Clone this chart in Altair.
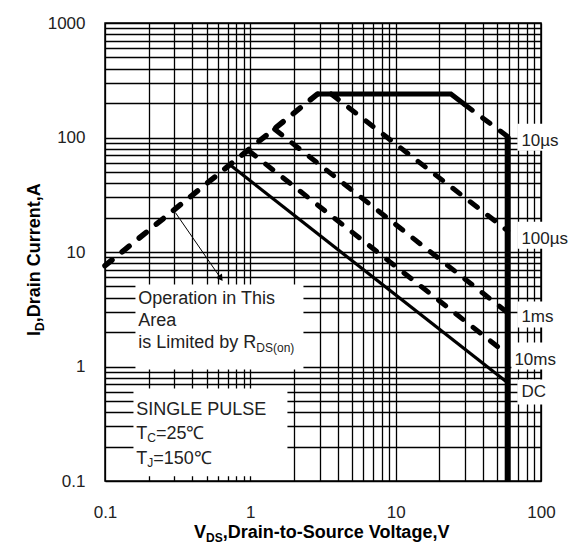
import altair as alt
import pandas as pd

# ---------------- data ----------------
x_grid = [0.1, 0.2, 0.3, 0.4, 0.5, 0.6, 0.7, 0.8, 0.9,
          1, 2, 3, 4, 5, 6, 7, 8, 9,
          10, 20, 30, 40, 50, 60, 70, 80, 90, 100]
y_grid = [0.1, 0.2, 0.3, 0.4, 0.5, 0.6, 0.7, 0.8, 0.9,
          1, 2, 3, 4, 5, 6, 7, 8, 9,
          10, 20, 30, 40, 50, 60, 70, 80, 90,
          100, 200, 300, 400, 500, 600, 700, 800, 900, 1000]
x_labels = [0.1, 1, 10, 100]
y_labels = [0.1, 1, 10, 100, 1000]

# SOA boundaries (V_DS, I_D)
rds_v = [0.1, 2.9]
rds_i = [7.6, 240]
top_v = [2.9, 24, 30]
top_i = [240, 240, 193]
us10_v = [30, 59]
us10_i = [193, 102]
us100_v = [3.6, 59]
us100_i = [240, 15.3]
ms1_v = [1.47, 59]
ms1_i = [118, 2.95]
ms10_v = [0.97, 59]
ms10_i = [77, 1.27]
dc_v = [0.72, 59]
dc_i = [58, 0.72]
vmax_v = [59, 59]
vmax_i = [102, 0.1]

arrow_v = [0.305, 0.62]
arrow_i = [22.1, 6.0]

# curve labels
curve_names = ["10µs", "100µs", "1ms", "10ms", "DC"]
curve_label_v = [73.3, 73.3, 73.3, 65.6, 73.3]
curve_label_i = [93.8, 13.1, 2.70, 1.13, 0.593]

# white label backgrounds (x1, x2, y1, y2)
box_x1 = [68.8, 68.8, 68.8, 62.6, 68.8, 0.162, 0.157]
box_x2 = [178, 178, 178, 178, 178, 2.32, 1.80]
box_y1 = [132, 18.4, 3.69, 1.62, 0.77, 5.2, 0.643]
box_y2 = [76.7, 10.7, 2.19, 0.94, 0.466, 0.94, 0.11]

note_lines = ["Operation in This", "Area", "is Limited by R"]
note_v = [0.1695, 0.1695, 0.1695]
note_i = [3.92, 2.52, 1.59]

pulse_lines = ["SINGLE PULSE", "T", "T"]
pulse_v = [0.164, 0.164, 0.164]
pulse_i = [0.421, 0.255, 0.157]

FONT = "Liberation Sans"

# ---------------- scales / axes ----------------
xs = alt.Scale(type="log", domain=[0.1, 100], nice=False)
ys = alt.Scale(type="log", domain=[0.1, 1000], nice=False)


def expr_for(vals):
    return " || ".join("datum.value == %s" % v for v in vals)


x_axis = alt.Axis(values=x_grid, grid=True, gridColor="#000", gridWidth=1.3, gridOpacity=1,
                  domain=False, ticks=False, format="~g",
                  labelExpr="(" + expr_for(x_labels) + ") ? datum.label : ''",
                  labelPadding=23, labelFontSize=17, labelFont=FONT, labelColor="#222",
                  labelOverlap=False, labelFlush=False)
y_axis = alt.Axis(values=y_grid, grid=True, gridColor="#000", gridWidth=1.3, gridOpacity=1,
                  domain=False, ticks=False, format="~g",
                  labelExpr="(" + expr_for(y_labels) + ") ? datum.label : ''",
                  labelPadding=20, labelFontSize=17, labelFont=FONT, labelColor="#222",
                  labelOverlap=False, labelFlush=False)


def X(f="v"):
    return alt.X(f + ":Q", scale=xs, axis=x_axis, title=None)


def Y(f="i"):
    return alt.Y(f + ":Q", scale=ys, axis=y_axis, title=None)


def line(vs, is_, width, dash=None):
    df = pd.DataFrame({"v": vs, "i": is_, "o": list(range(len(vs)))})
    kw = dict(color="black", strokeWidth=width, clip=False)
    if dash:
        kw["strokeDash"] = dash
        kw["strokeCap"] = "round"
    return alt.Chart(df).mark_line(**kw).encode(x=X(), y=Y(), order="o:O")


boxes = alt.Chart(pd.DataFrame({"x1": box_x1, "x2": box_x2, "y1": box_y1, "y2": box_y2})).mark_rect(
    fill="white", stroke=None).encode(x=X("x1"), x2="x2:Q", y=Y("y1"), y2="y2:Q")

DASH = [9, 13]
layers = [
    boxes,
    line(rds_v, rds_i, 5.5, DASH),
    line(top_v, top_i, 5),
    line(us10_v, us10_i, 5, DASH),
    line(us100_v, us100_i, 5, DASH),
    line(ms1_v, ms1_i, 5, DASH),
    line(ms10_v, ms10_i, 5, DASH),
    line(dc_v, dc_i, 3.2),
    line(vmax_v, vmax_i, 6),
    line(arrow_v, arrow_i, 1),
]

arrow_head = alt.Chart(pd.DataFrame({"v": [arrow_v[1]], "i": [arrow_i[1]]})).mark_point(
    shape="triangle", angle=145, size=55, filled=True, color="black", opacity=1).encode(x=X(), y=Y())
layers.append(arrow_head)

# curve labels
lab = alt.Chart(pd.DataFrame({"v": curve_label_v, "i": curve_label_i, "t": curve_names})).mark_text(
    align="left", baseline="middle", font=FONT, fontSize=17, color="#222").encode(x=X(), y=Y(), text="t:N")
layers.append(lab)

# notes
note = alt.Chart(pd.DataFrame({"v": note_v, "i": note_i, "t": note_lines})).mark_text(
    align="left", baseline="middle", font=FONT, fontSize=18, color="#222").encode(x=X(), y=Y(), text="t:N")
note_sub = alt.Chart(pd.DataFrame({"v": [note_v[2]], "i": [note_i[2]], "t": ["DS(on)"]})).mark_text(
    align="left", baseline="middle", font=FONT, fontSize=12, color="#222", dx=118, dy=5).encode(
    x=X(), y=Y(), text="t:N")
layers += [note, note_sub]

pulse = alt.Chart(pd.DataFrame({"v": pulse_v, "i": pulse_i, "t": pulse_lines})).mark_text(
    align="left", baseline="middle", font=FONT, fontSize=18, color="#222").encode(x=X(), y=Y(), text="t:N")
tc_sub = alt.Chart(pd.DataFrame({"v": [pulse_v[1]], "i": [pulse_i[1]], "t": ["C"]})).mark_text(
    align="left", baseline="middle", font=FONT, fontSize=12, color="#222", dx=11, dy=4).encode(
    x=X(), y=Y(), text="t:N")
tc_rest = alt.Chart(pd.DataFrame({"v": [pulse_v[1]], "i": [pulse_i[1]], "t": ["=25℃"]})).mark_text(
    align="left", baseline="middle", font=FONT, fontSize=18, color="#222", dx=19.7).encode(
    x=X(), y=Y(), text="t:N")
tj_sub = alt.Chart(pd.DataFrame({"v": [pulse_v[2]], "i": [pulse_i[2]], "t": ["J"]})).mark_text(
    align="left", baseline="middle", font=FONT, fontSize=12, color="#222", dx=11, dy=4).encode(
    x=X(), y=Y(), text="t:N")
tj_rest = alt.Chart(pd.DataFrame({"v": [pulse_v[2]], "i": [pulse_i[2]], "t": ["=150℃"]})).mark_text(
    align="left", baseline="middle", font=FONT, fontSize=18, color="#222", dx=17).encode(
    x=X(), y=Y(), text="t:N")
layers += [pulse, tc_sub, tc_rest, tj_sub, tj_rest]

# axis titles (with subscripts) as text marks
one = pd.DataFrame({"k": [0]})


def title_text(txt, x, y, size, angle=0):
    kw = dict(align="left", baseline="alphabetic", font=FONT, fontSize=size, fontWeight="bold",
              color="black", clip=False)
    if angle:
        kw["angle"] = angle
    return alt.Chart(one).mark_text(**kw).encode(x=alt.value(x), y=alt.value(y), text=alt.value(txt))


layers += [
    title_text("V", 89, 515, 18),
    title_text("DS", 101, 519, 12),
    title_text(",Drain-to-Source Voltage,V", 117.7, 515, 18),
    title_text("I", -65, 313, 18, 270),
    title_text("D", -61, 308, 12, 270),
    title_text(",Drain Current,A", -65, 299.3, 18, 270),
]

chart = alt.layer(*layers).properties(
    width=436, height=458,
    autosize=alt.AutoSizeParams(type="none"),
    padding={"left": 97, "top": 15, "right": 28, "bottom": 63},
    background="white",
).configure_view(stroke="black", strokeWidth=1.5)

chart.save("out.html", embed_options={"renderer": "svg", "actions": False})
